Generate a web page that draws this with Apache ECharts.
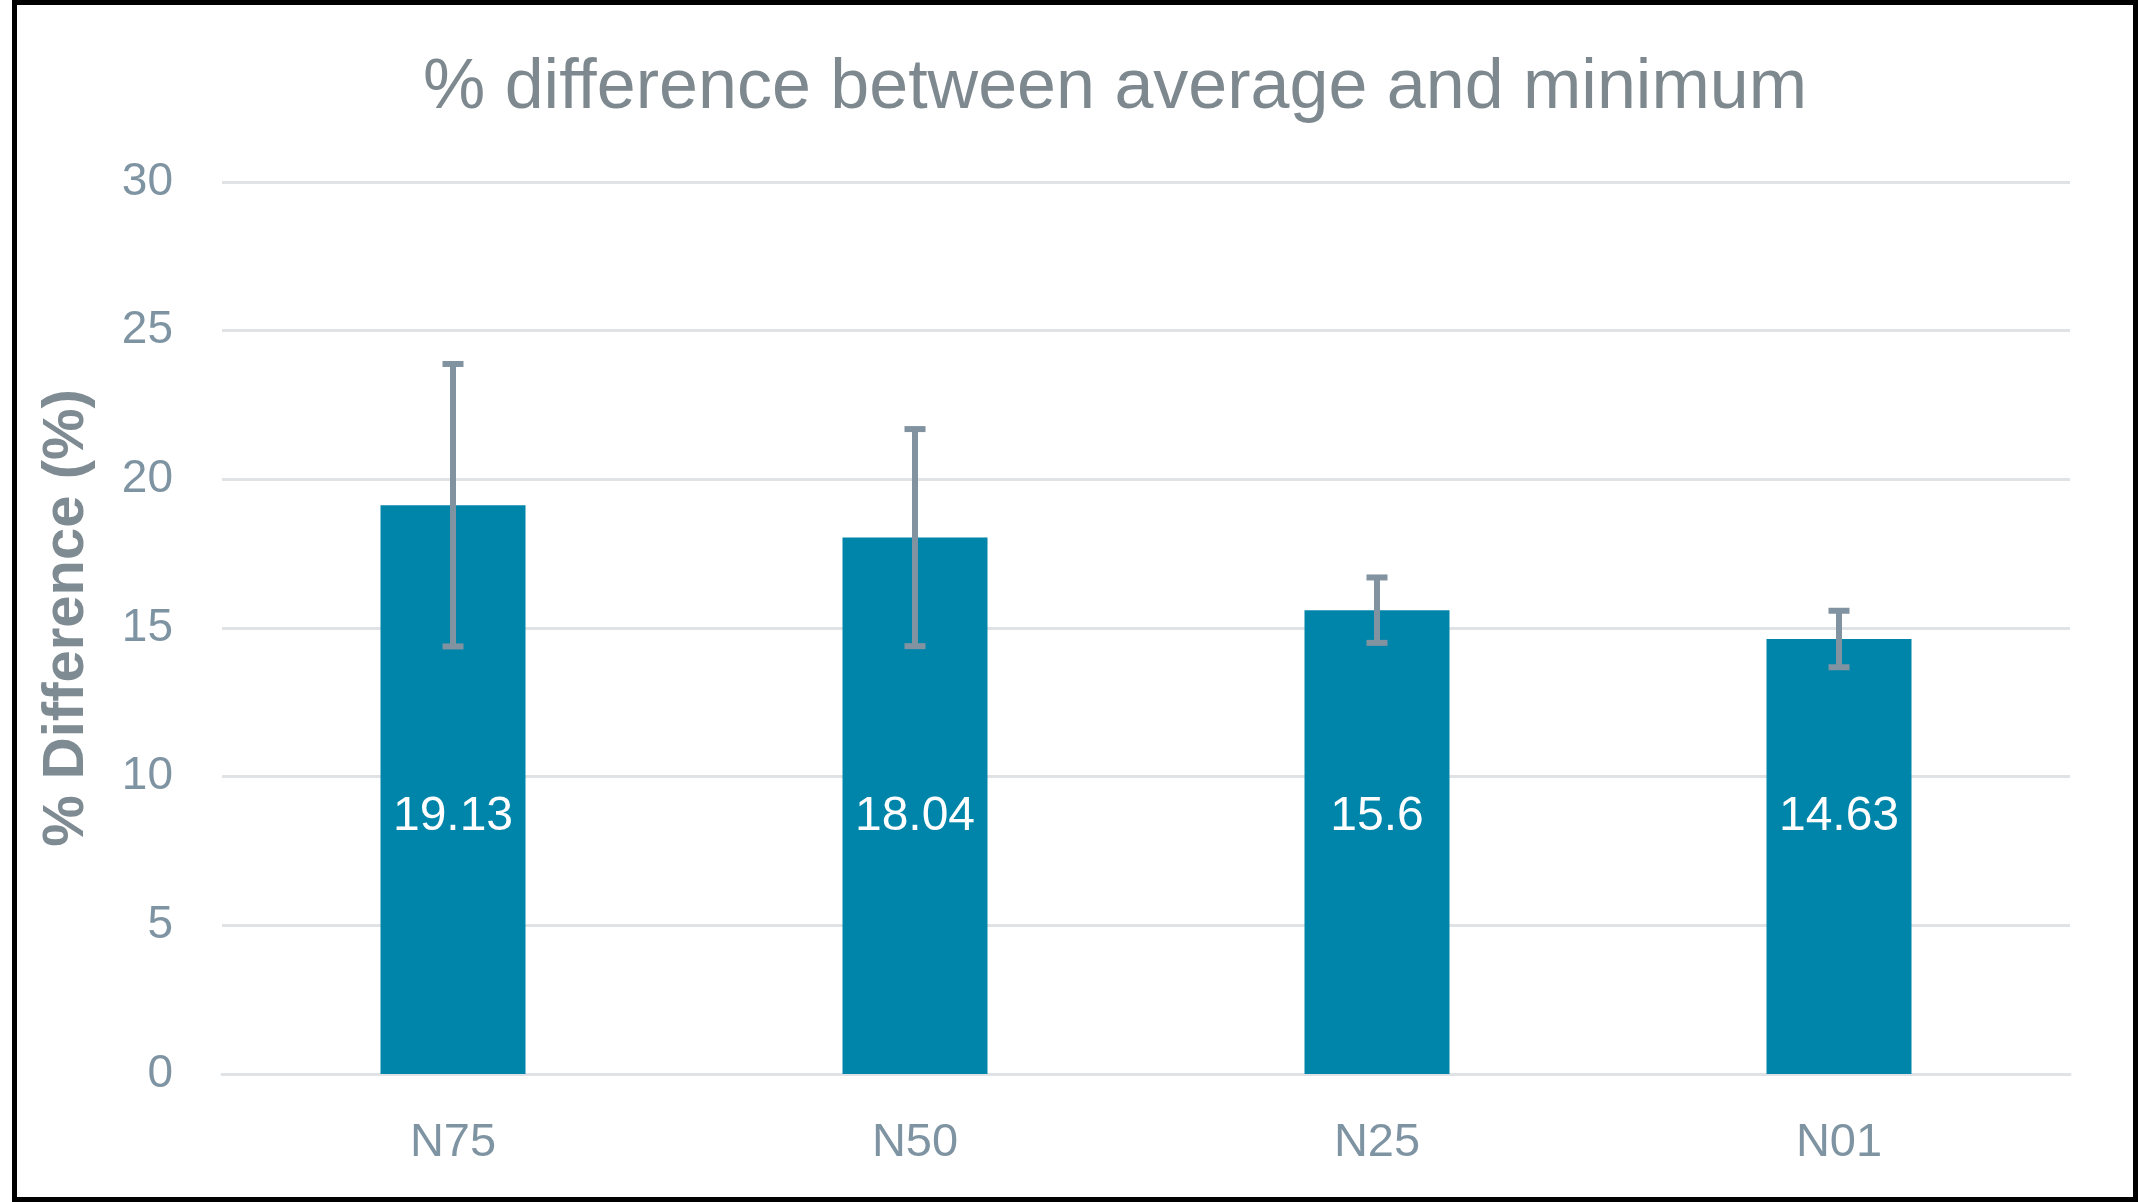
<!DOCTYPE html>
<html>
<head>
<meta charset="utf-8">
<script src="https://cdn.jsdelivr.net/npm/echarts@6/dist/echarts.min.js"></script>
<style>
html,body{margin:0;padding:0;background:#fff;}
#chart{position:absolute;left:0;top:0;width:2138px;height:1202px;}
#frame{position:absolute;left:12px;top:0;width:2126px;height:1202px;border:5px solid #000;box-sizing:border-box;pointer-events:none;}
</style>
</head>
<body>
<div id="chart"></div>
<div id="frame"></div>
<script>
const categories = ['N75', 'N50', 'N25', 'N01'];
const values = [19.13, 18.04, 15.6, 14.63];
const errors = [4.75, 3.65, 1.1, 0.95];
const yTicks = [0, 5, 10, 15, 20, 25, 30];

const errData = categories.map((c, i) => [i, values[i] - errors[i], values[i] + errors[i]]);

const chart = echarts.init(document.getElementById('chart'));
const font = "'Liberation Sans', Arial, sans-serif";
chart.setOption({
  animation: false,
  backgroundColor: '#ffffff',
  title: {
    text: '% difference between average and minimum',
    left: 418,
    top: 49,
    textStyle: { fontFamily: font, fontSize: 70, fontWeight: 'normal', color: '#7E898F' }
  },
  grid: { left: 222, right: 68, top: 182, bottom: 128 },
  xAxis: {
    type: 'category',
    data: categories,
    axisLine: { show: true, lineStyle: { color: '#DFE3E6', width: 3 } },
    axisTick: { show: false },
    axisLabel: { fontFamily: font, fontSize: 47, color: '#7F94A2', margin: 46 }
  },
  yAxis: {
    type: 'value',
    min: yTicks[0],
    max: yTicks[yTicks.length - 1],
    interval: 5,
    name: '% Difference (%)',
    nameLocation: 'middle',
    nameGap: 126,
    nameTextStyle: { fontFamily: font, fontSize: 58, fontWeight: 'bold', color: '#7F8B92', padding: [0, 0, 0, 20] },
    axisLine: { show: false },
    axisTick: { show: false },
    axisLabel: { fontFamily: font, fontSize: 46, color: '#7F94A2', margin: 49 },
    splitLine: { lineStyle: { color: '#DFE3E6', width: 3 } }
  },
  series: [
    {
      type: 'bar',
      data: values,
      barWidth: 145,
      itemStyle: { color: '#0085AA' },
      label: {
        show: true,
        position: 'insideBottom',
        distance: 233,
        fontFamily: font,
        fontSize: 48,
        color: '#ffffff'
      },
      z: 2
    },
    {
      type: 'custom',
      data: errData,
      z: 5,
      renderItem: function (params, api) {
        const x = api.value(0);
        const lo = api.coord([x, api.value(1)]);
        const hi = api.coord([x, api.value(2)]);
        const half = 10.5;
        const st = { stroke: '#8193A0', lineWidth: 6 };
        return {
          type: 'group',
          children: [
            { type: 'line', shape: { x1: lo[0], y1: lo[1], x2: hi[0], y2: hi[1] }, style: st },
            { type: 'line', shape: { x1: hi[0] - half, y1: hi[1], x2: hi[0] + half, y2: hi[1] }, style: st },
            { type: 'line', shape: { x1: lo[0] - half, y1: lo[1], x2: lo[0] + half, y2: lo[1] }, style: st }
          ]
        };
      }
    }
  ]
});
</script>
</body>
</html>
